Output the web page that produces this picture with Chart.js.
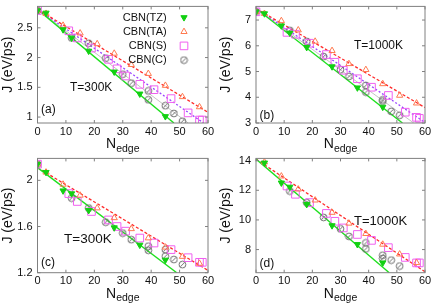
<!DOCTYPE html>
<html>
<head>
<meta charset="utf-8">
<script src="https://cdn.jsdelivr.net/npm/chart.js@4.4.1/dist/chart.umd.min.js"></script>
<style>
  body { margin:0; background:#fff; width:436px; height:305px; overflow:hidden; position:relative; }
  canvas { position:absolute; }
</style>
</head>
<body>
<canvas id="pa" width="218" height="156" style="left:0;top:0"></canvas>
<canvas id="pb" width="218" height="156" style="left:218px;top:0"></canvas>
<canvas id="pc" width="218" height="153" style="left:0;top:152px"></canvas>
<canvas id="pd" width="218" height="153" style="left:218px;top:152px"></canvas>
<script>
const seriesNames = ['CBN(TZ)', 'CBN(TA)', 'CBN(S)', 'CBN(C)']

// N_edge positions per structure
const nTZ = [0, 3, 9, 12, 18, 27, 36, 45]
const nTA = [0, 3, 9, 15, 21, 27, 33, 39, 45, 51, 57]
const nS  = [0, 11, 14, 19, 25, 28, 31, 36, 41, 47, 53, 57, 58]
const nC  = [0, 12, 18, 24, 30, 33, 39, 39, 45, 45, 48, 51]

const xTicks = [0, 10, 20, 30, 40, 50, 60]

// (a) T=300K
const jTZ_a = [2.79, 2.75, 2.47, 2.33, 2.11, 1.76, 1.39, 1.01]
const jTA_a = [2.79, 2.74, 2.54, 2.41, 2.23, 2.07, 1.88, 1.73, 1.53, 1.34, 1.17]
const jS_a  = [2.79, 2.45, 2.33, 2.16, 1.97, 1.81, 1.69, 1.55, 1.46, 1.31, 1.07, 0.95, 0.95]
const jC_a  = [2.79, 2.33, 2.24, 1.99, 1.72, 1.57, 1.44, 1.29, 1.19, null, 1.06, 0.93]
const fitEndN_a = [48, 60, 58.5, 53]
const fitEndJ_a = [0.9, 1.08, 0.9, 0.9]
const fitStartJ_a = 2.81
const yTicks_a = [1, 1.5, 2, 2.5]

// (b) T=1000K
const jTZ_b = [7.32, 7.25, 6.78, 6.50, 5.94, 5.19, 4.37, 3.62]
const jTA_b = [7.32, 7.25, 6.97, 6.61, 6.17, 5.81, 5.30, 5.07, 4.52, 4.07, 3.77]
const jS_b  = [7.32, 6.52, 6.45, 6.10, 5.66, 5.36, 5.05, 4.72, 4.39, 4.07, 3.42, 3.22, 3.18]
const jC_b  = [7.32, 6.60, 6.17, 5.58, 5.07, 4.81, 4.46, 4.20, 3.90, 3.85, 3.45, 3.30]
const fitEndN_b = [52, 60, 60, 56]
const fitEndJ_b = [3.0, 3.6, 3.02, 3.0]
const fitStartJ_b = 7.45
const yTicks_b = [3, 4, 5, 6, 7]

// (c) T=300K
const jTZ_c = [2.14, 2.07, 1.91, 1.885, 1.74, 1.59, 1.44, 1.31]
const jTA_c = [2.14, 2.07, 1.965, 1.87, 1.76, 1.675, 1.58, 1.50, 1.42, 1.34, 1.28]
const jS_c  = [2.14, 1.885, 1.817, 1.73, 1.657, 1.60, 1.56, 1.50, 1.457, 1.40, 1.33, 1.29, 1.29]
const jC_c  = [2.14, 1.846, 1.76, 1.637, 1.543, 1.486, 1.43, 1.394, 1.40, 1.343, 1.314, 1.27]
const fitEndN_c = [49, 60]
const fitEndJ_c = [1.2, 1.22]
const fitStartJ_c = 2.11
const yTicks_c = [1.2, 1.6, 2]

// (d) T=1000K
const jTZ_d = [null, 13.85, 12.5, 12.22, 11.05, 9.62, 8.35, 7.11]
const jTA_d = [null, 13.9, 12.95, 12.07, 11.33, 10.5, 9.77, 9.07, 8.35, 7.69, 7.11]
const jS_d  = [null, 12.29, 11.73, 11.17, 10.44, 9.91, 9.46, 9.02, 8.62, 8.13, 7.47, 7.1, 7.1]
const jC_d  = [null, 11.95, 11.17, 10.17, 9.4, 8.89, 8.45, 8.05, 7.62, 7.4, 7.29, 6.89]
const fitEndN_d = [47.3, 60]
const fitEndJ_d = [6.44, 6.5]
const fitStartJ_d = 14.1
const yTicks_d = [8, 10, 12, 14]

const FONT = '"Liberation Sans", Arial, Helvetica, sans-serif'
Chart.defaults.font.family = FONT
Chart.defaults.color = '#111'
Chart.defaults.animation = false

// gray circle with a slash
const circSlash = document.createElement('canvas')
circSlash.width = 9; circSlash.height = 9
{
  const c = circSlash.getContext('2d')
  c.strokeStyle = '#707070'
  c.lineWidth = 1
  c.beginPath(); c.arc(4.5, 4.5, 3.4, 0, Math.PI * 2); c.stroke()
  c.beginPath(); c.moveTo(2.3, 6.7); c.lineTo(6.7, 2.3); c.stroke()
}

const MARKERS = [
  { pointStyle: 'triangle', rotation: 180, radius: 3.6, borderWidth: 1, fill: '#12d012', stroke: '#12d012' },
  { pointStyle: 'triangle', rotation: 0,   radius: 3.6, borderWidth: 1, fill: 'rgba(0,0,0,0)', stroke: '#ff7a50' },
  { pointStyle: 'rect',     rotation: 0,   radius: 5.4, borderWidth: 1, fill: 'rgba(0,0,0,0)', stroke: '#f060f0' },
  { pointStyle: circSlash,  rotation: 0,   radius: 4,   borderWidth: 0, fill: 'rgba(0,0,0,0)', stroke: '#707070' }
]
const FIT_STYLES = [
  { color: '#1ee01e', width: 1.4, dash: [] },
  { color: '#ff2a2a', width: 1.3, dash: [3, 2] },
  { color: '#9a44ff', width: 1.3, dash: [2, 2] },
  { color: '#c4c4c4', width: 1,   dash: [] }
]

const panelDecor = {
  id: 'panelDecor',
  afterDraw(chart, args, o) {
    const { ctx, chartArea: a, scales: { x, y } } = chart
    ctx.save()
    // frame + inward ticks on all four sides
    ctx.strokeStyle = '#808080'
    ctx.lineWidth = 1
    ctx.strokeRect(a.left, a.top, a.right - a.left, a.bottom - a.top)
    ctx.beginPath()
    xTicks.forEach(v => {
      const px = x.getPixelForValue(v)
      ctx.moveTo(px, a.bottom); ctx.lineTo(px, a.bottom - 3)
      ctx.moveTo(px, a.top); ctx.lineTo(px, a.top + 3)
    })
    o.yTicks.forEach(v => {
      const py = y.getPixelForValue(v)
      ctx.moveTo(a.left, py); ctx.lineTo(a.left + 3, py)
      ctx.moveTo(a.right, py); ctx.lineTo(a.right - 3, py)
    })
    ctx.stroke()

    ctx.fillStyle = '#111'
    ctx.textBaseline = 'alphabetic'
    ctx.textAlign = 'left'
    // x title N_edge
    ctx.font = '14px ' + FONT
    const wN = ctx.measureText('N').width
    ctx.font = '10.5px ' + FONT
    const wE = ctx.measureText('edge').width
    const x0 = (a.left + a.right) / 2 - (wN + wE) / 2
    ctx.font = '14px ' + FONT
    ctx.fillText('N', x0, a.bottom + 25.3)
    ctx.font = '10.5px ' + FONT
    ctx.fillText('edge', x0 + wN, a.bottom + 28.7)

    // panel letter and temperature
    ctx.font = '12px ' + FONT
    ctx.fillText(o.letter, a.left + 3.5, o.letterY)
    ctx.font = o.tSize + 'px ' + FONT
    ctx.fillText(o.tText, o.tX, o.tY)

    if (o.legend) {
      ctx.font = '11px ' + FONT
      ctx.textAlign = 'right'
      ctx.textBaseline = 'middle'
      seriesNames.forEach((name, i) => {
        const ry = 17.5 + i * 14.2
        ctx.fillStyle = '#111'
        ctx.fillText(name, 166.7, ry)
        const m = MARKERS[i]
        ctx.fillStyle = m.fill
        ctx.strokeStyle = m.stroke
        ctx.lineWidth = m.borderWidth
        Chart.helpers.drawPoint(ctx, m, 184, ry)
      })
    }
    ctx.restore()
  }
}

function pts(ns, js) {
  return ns.map((n, i) => ({ x: n, y: js[i] })).filter(p => p.y !== null)
}

function buildPanel(id, p) {
  const datasets = []
  p.fitEndN.forEach((n, i) => {
    const s = FIT_STYLES[i]
    datasets.push({
      data: [{ x: 0, y: p.fitStartJ }, { x: n, y: p.fitEndJ[i] }],
      showLine: true, pointRadius: 0, borderColor: s.color, borderWidth: s.width,
      borderDash: s.dash, order: 2
    })
  })
  const ns = [nTZ, nTA, nS, nC]
  p.series.forEach((js, i) => {
    const m = MARKERS[i]
    datasets.push({
      data: pts(ns[i], js), showLine: false, order: 1,
      pointStyle: m.pointStyle, pointRotation: m.rotation, pointRadius: m.radius,
      pointBorderWidth: m.borderWidth, pointBackgroundColor: m.fill, pointBorderColor: m.stroke
    })
  })

  new Chart(document.getElementById(id), {
    type: 'scatter',
    data: { datasets },
    options: {
      responsive: false,
      layout: { padding: { top: p.top, right: p.right, left: 0, bottom: 0 } },
      plugins: {
        legend: { display: false },
        tooltip: { enabled: false },
        panelDecor: p.decor
      },
      scales: {
        x: {
          type: 'linear', min: 0, max: 60,
          grid: { display: false, drawTicks: false }, border: { display: false },
          afterBuildTicks: s => { s.ticks = xTicks.map(v => ({ value: v })) },
          ticks: { font: { size: 11 }, padding: 2, maxRotation: 0, color: '#111' },
          afterFit: s => { s.height = p.xH; s.paddingLeft = s.paddingRight = 0 }
        },
        y: {
          type: 'linear', min: p.yMin, max: p.yMax,
          grid: { display: false, drawTicks: false }, border: { display: false },
          afterBuildTicks: s => { s.ticks = p.decor.yTicks.map(v => ({ value: v })) },
          ticks: { font: { size: 11 }, padding: 5, color: '#111', callback: v => String(v) },
          title: { display: true, text: 'J (eV/ps)', font: { size: 14 }, padding: 0, color: '#111' },
          afterFit: s => { s.width = p.yW; s.paddingTop = s.paddingBottom = 0 }
        }
      }
    },
    plugins: [panelDecor]
  })
}

buildPanel('pa', {
  series: [jTZ_a, jTA_a, jS_a, jC_a], fitEndN: fitEndN_a, fitEndJ: fitEndJ_a, fitStartJ: fitStartJ_a,
  yMin: 0.9, yMax: 2.86, top: 5.5, right: 10, yW: 37.5, xH: 33,
  decor: { yTicks: yTicks_a, letter: '(a)', letterY: 113, tText: 'T=300K', tSize: 12, tX: 70, tY: 91, legend: true }
})
buildPanel('pb', {
  series: [jTZ_b, jTA_b, jS_b, jC_b], fitEndN: fitEndN_b, fitEndJ: fitEndJ_b, fitStartJ: fitStartJ_b,
  yMin: 3, yMax: 7.53, top: 5.5, right: 11, yW: 38, xH: 33,
  decor: { yTicks: yTicks_b, letter: '(b)', letterY: 119, tText: 'T=1000K', tSize: 12, tX: 136, tY: 48.5, legend: false }
})
buildPanel('pc', {
  series: [jTZ_c, jTA_c, jS_c, jC_c], fitEndN: fitEndN_c, fitEndJ: fitEndJ_c, fitStartJ: fitStartJ_c,
  yMin: 1.2, yMax: 2.19, top: 4.7, right: 10, yW: 37.5, xH: 32.3,
  decor: { yTicks: yTicks_c, letter: '(c)', letterY: 114, tText: 'T=300K', tSize: 13.5, tX: 64, tY: 90.5, legend: false }
})
buildPanel('pd', {
  series: [jTZ_d, jTA_d, jS_d, jC_d], fitEndN: fitEndN_d, fitEndJ: fitEndJ_d, fitStartJ: fitStartJ_d,
  yMin: 6.44, yMax: 14.15, top: 4.7, right: 11, yW: 38, xH: 32.3,
  decor: { yTicks: yTicks_d, letter: '(d)', letterY: 115, tText: 'T=1000K', tSize: 13, tX: 136, tY: 73, legend: false }
})
</script>
</body>
</html>
